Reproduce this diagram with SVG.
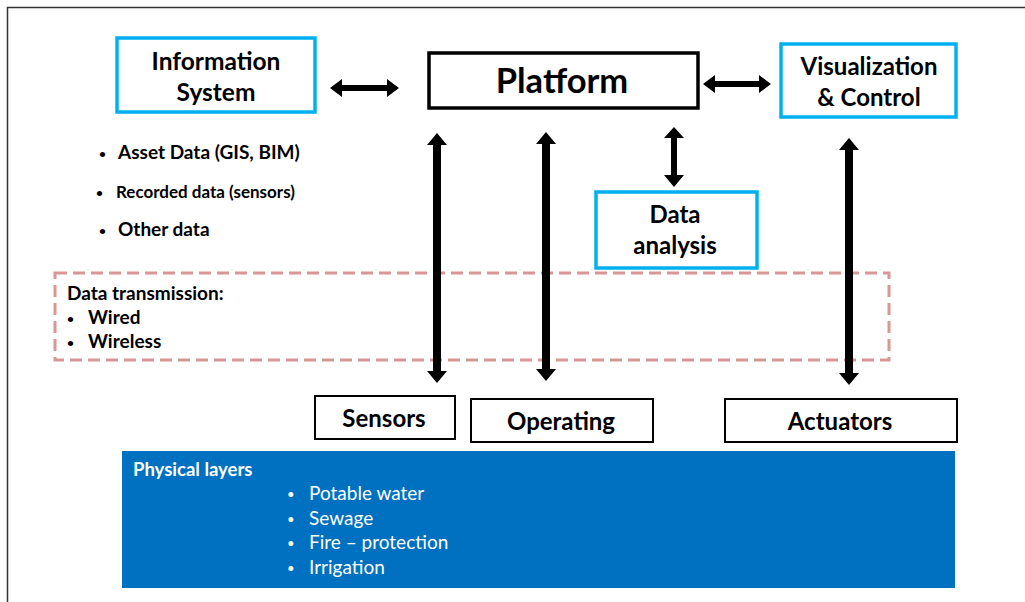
<svg xmlns="http://www.w3.org/2000/svg" width="1025" height="602" viewBox="0 0 1025 602">
<style>
text{font-family:Lato,"Open Sans","Liberation Sans",sans-serif;font-weight:bold;fill:#000}
.cy{fill:#fff;stroke:#00B0F0;stroke-width:3.5}
.bk{fill:#fff;stroke:#000;stroke-width:2}
.ar{fill:#000}
.w{fill:#fff}
.n{font-weight:normal}
.b{font-size:12px}
.wb{font-size:13px}
</style>
<rect x="0" y="0" width="1025" height="602" fill="#fff"/>
<path d="M7.5 602V7.5H1025" fill="none" stroke="#333" stroke-width="1.5"/>
<g id="information-system">
<rect class="cy" x="117" y="38" width="198" height="74"/>
<text x="216" y="70" font-size="24.5" text-anchor="middle">Information</text>
<text x="216" y="101" font-size="24.5" text-anchor="middle">System</text>
</g>
<g id="platform">
<rect x="429" y="53" width="269" height="55" fill="#fff" stroke="#000" stroke-width="3.5"/>
<text x="562" y="93" font-size="34.5" text-anchor="middle">Platform</text>
</g>
<g id="visualization-control">
<rect class="cy" x="781" y="44" width="175" height="73"/>
<text x="869" y="75" font-size="24" text-anchor="middle">Visualization</text>
<text x="869" y="106" font-size="24" text-anchor="middle">&amp; Control</text>
</g>
<g id="data-list">
<text class="b" x="99" y="158">•</text>
<text x="118" y="159" font-size="19">Asset Data (GIS, BIM)</text>
<text class="b" x="96" y="197">•</text>
<text x="116" y="198" font-size="17">Recorded data (sensors)</text>
<text class="b" x="99" y="235">•</text>
<text x="118" y="236" font-size="19">Other data</text>
</g>
<g id="data-analysis">
<rect class="cy" x="596" y="192" width="161" height="76"/>
<text x="675" y="223" font-size="24" text-anchor="middle">Data</text>
<text x="675" y="254" font-size="24" text-anchor="middle">analysis</text>
</g>
<g id="data-transmission">
<rect x="55" y="273" width="834" height="87" fill="none" stroke="#D99694" stroke-width="3" stroke-dasharray="12 6"/>
<text x="67" y="300" font-size="19">Data transmission:</text>
<text class="b" x="67" y="323">•</text>
<text x="88" y="324" font-size="19">Wired</text>
<text class="b" x="67" y="347">•</text>
<text x="88" y="348" font-size="19">Wireless</text>
</g>
<g id="sensors">
<rect class="bk" x="315" y="396" width="140" height="43"/>
<text x="384" y="427" font-size="24" text-anchor="middle">Sensors</text>
</g>
<g id="operating">
<rect class="bk" x="471" y="399" width="182" height="43"/>
<text x="561" y="430" font-size="24" text-anchor="middle">Operating</text>
</g>
<g id="actuators">
<rect class="bk" x="725" y="399" width="232" height="43"/>
<text x="840" y="430" font-size="24" text-anchor="middle">Actuators</text>
</g>
<g id="physical-layers">
<rect x="122" y="451" width="833" height="137" fill="#0070C0"/>
<text class="w" x="133" y="476" font-size="18.5">Physical layers</text>
<text class="w n wb" x="287" y="499">•</text>
<text class="w n" x="309" y="500" font-size="19">Potable water</text>
<text class="w n wb" x="287" y="524">•</text>
<text class="w n" x="309" y="525" font-size="19">Sewage</text>
<text class="w n wb" x="287" y="548">•</text>
<text class="w n" x="309" y="549" font-size="19">Fire – protection</text>
<text class="w n wb" x="287" y="573">•</text>
<text class="w n" x="309" y="574" font-size="19">Irrigation</text>
</g>
<g id="connectors">
<polygon class="ar" points="330,88 342,79 342,85 387,85 387,79 399,88 387,97 387,91 342,91 342,97"/>
<polygon class="ar" points="703,84 715,75 715,81 759,81 759,75 771,84 759,93 759,87 715,87 715,93"/>
<polygon class="ar" points="674,127 684,138 677,138 677,175 684,175 674,187 664,175 671,175 671,138 664,138"/>
<polygon class="ar" points="437,133 447,145 441,145 441,371 447,371 437,383 427,371 433,371 433,145 427,145"/>
<polygon class="ar" points="546,132 556,144 550,144 550,369 556,369 546,381 536,369 542,369 542,144 536,144"/>
<polygon class="ar" points="849,138 859,150 853,150 853,373 859,373 849,385 839,373 845,373 845,150 839,150"/>
</g>
</svg>
